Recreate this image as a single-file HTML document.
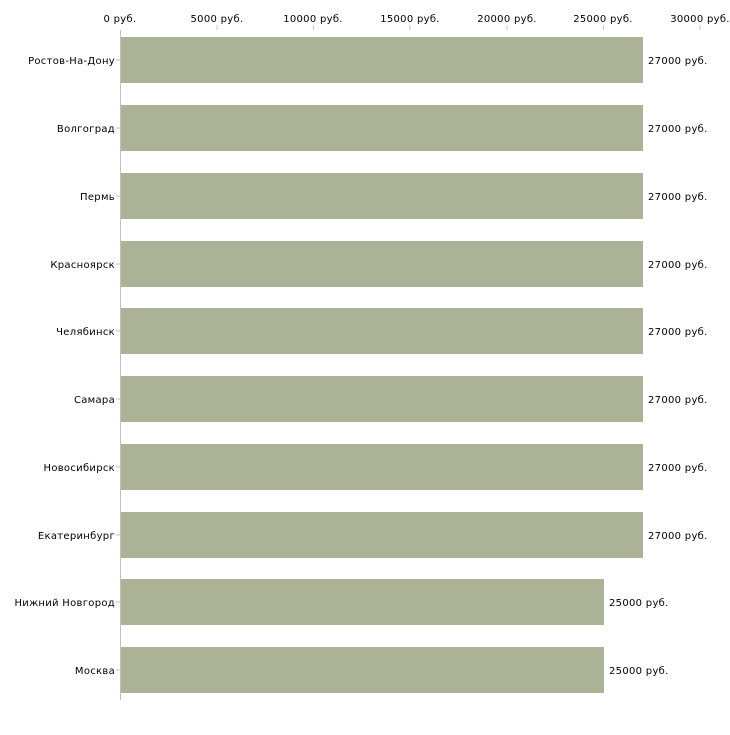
<!DOCTYPE html>
<html><head><meta charset="utf-8"><style>body{margin:0;background:#fff}</style></head><body>
<svg width="730" height="730" xmlns="http://www.w3.org/2000/svg" font-family="DejaVu Sans, Liberation Sans, sans-serif" font-size="10" fill="#000" letter-spacing="0.3">
<line x1="120.5" y1="30" x2="120.5" y2="700" stroke="#c0c0c0"/>
<g stroke="#c8cca8">
<line x1="217" y1="25" x2="217" y2="30"/><line x1="313.5" y1="25" x2="313.5" y2="30"/><line x1="410" y1="25" x2="410" y2="30"/><line x1="507" y1="25" x2="507" y2="30"/><line x1="603.5" y1="25" x2="603.5" y2="30"/><line x1="700" y1="25" x2="700" y2="30"/>
</g>
<g text-anchor="middle">
<text x="120" y="22">0 руб.</text><text x="217" y="22">5000 руб.</text><text x="313" y="22">10000 руб.</text><text x="410" y="22">15000 руб.</text><text x="507" y="22">20000 руб.</text><text x="603" y="22">25000 руб.</text><text x="700" y="22">30000 руб.</text>
</g>
<g fill="#acb296">
<rect x="121" y="37" width="522" height="46"/>
<rect x="121" y="105" width="522" height="46"/>
<rect x="121" y="173" width="522" height="46"/>
<rect x="121" y="241" width="522" height="46"/>
<rect x="121" y="308" width="522" height="46"/>
<rect x="121" y="376" width="522" height="46"/>
<rect x="121" y="444" width="522" height="46"/>
<rect x="121" y="512" width="522" height="46"/>
<rect x="121" y="579" width="483" height="46"/>
<rect x="121" y="647" width="483" height="46"/>
</g>
<g stroke="#c0c0c0">
<line x1="116" y1="60" x2="120" y2="60"/><line x1="116" y1="128" x2="120" y2="128"/><line x1="116" y1="196" x2="120" y2="196"/><line x1="116" y1="264" x2="120" y2="264"/><line x1="116" y1="331" x2="120" y2="331"/><line x1="116" y1="399" x2="120" y2="399"/><line x1="116" y1="467" x2="120" y2="467"/><line x1="116" y1="535" x2="120" y2="535"/><line x1="116" y1="602" x2="120" y2="602"/><line x1="116" y1="670" x2="120" y2="670"/>
</g>
<g text-anchor="end">
<text x="115" y="64">Ростов-На-Дону</text><text x="115" y="132">Волгоград</text><text x="115" y="200">Пермь</text><text x="115" y="268">Красноярск</text><text x="115" y="335">Челябинск</text><text x="115" y="403">Самара</text><text x="115" y="471">Новосибирск</text><text x="115" y="539">Екатеринбург</text><text x="115" y="606">Нижний Новгород</text><text x="115" y="674">Москва</text>
</g>
<g>
<text x="648" y="64">27000 руб.</text><text x="648" y="132">27000 руб.</text><text x="648" y="200">27000 руб.</text><text x="648" y="268">27000 руб.</text><text x="648" y="335">27000 руб.</text><text x="648" y="403">27000 руб.</text><text x="648" y="471">27000 руб.</text><text x="648" y="539">27000 руб.</text><text x="609" y="606">25000 руб.</text><text x="609" y="674">25000 руб.</text>
</g>
</svg>
</body></html>
